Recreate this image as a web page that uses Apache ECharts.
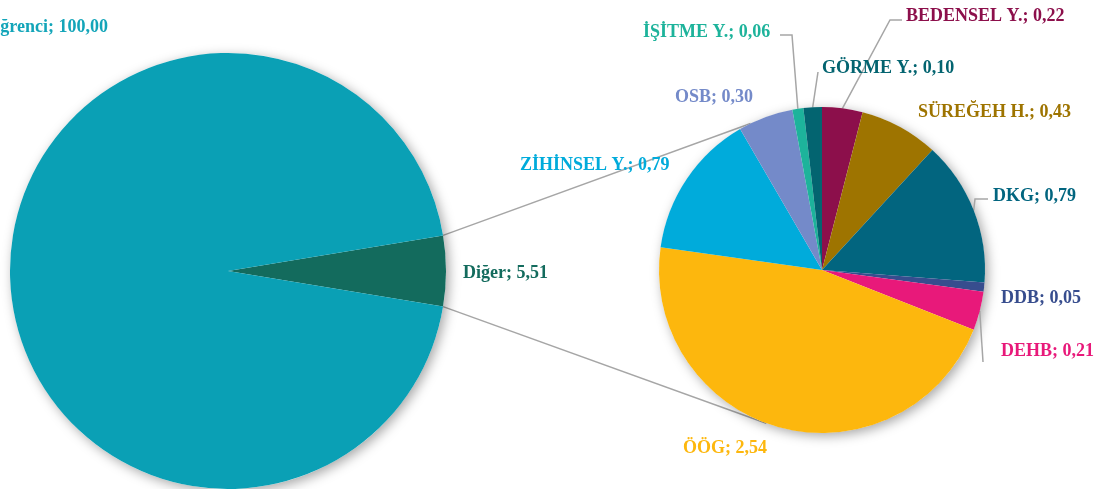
<!DOCTYPE html>
<html>
<head>
<meta charset="utf-8">
<script src="https://cdn.jsdelivr.net/npm/echarts@6/dist/echarts.min.js"></script>
<style>
  html, body { margin: 0; padding: 0; background: #fff; }
  #chart { width: 1111px; height: 489px; }
</style>
</head>
<body>
<div id="chart"></div>
<script>
// left pie
const mainNames = ['Diğer', 'Öğrenci']
const mainValues = [5.51, 100.00]
const mainColors = ['#136b5d', '#0aa0b5']

// right pie (clockwise from 12 o'clock)
const subNames = ['BEDENSEL Y.', 'SÜREĞEH H.', 'DKG', 'DDB', 'DEHB', 'ÖÖG', 'ZİHİNSEL Y.', 'OSB', 'İŞİTME Y.', 'GÖRME Y.']
const subValues = [0.22, 0.43, 0.79, 0.05, 0.21, 2.54, 0.79, 0.30, 0.06, 0.10]
const subColors = ['#8c0f4b', '#9e7400', '#02657f', '#374d8e', '#e8197a', '#fdb70d', '#00abdb', '#748ac9', '#1db39b', '#036470']

// geometry
const mainC = [228, 271], mainR = 218
const subC = [822, 270], subR = 163
const font = '"Liberation Serif", "DejaVu Serif", serif'
const lineColor = '#a6a6a6'

// label spots [x, y, align]
const mainLabelPos = [[463, 273, 'left'], [108, 27, 'right']]
const subLabelPos = [
  [906, 16, 'left'], [918, 112, 'left'], [993, 196, 'left'], [1001, 298, 'left'],
  [1001, 351, 'left'], [683, 448, 'left'], [520, 165, 'left'], [675, 97, 'left'],
  [643, 32, 'left'], [822, 68, 'left']
]
// leader line bends, only for the labels that have one
const subBends = {
  0: [[890, 20], [902, 20]],
  2: [[975, 199], [988, 199]],
  4: [[983, 362]],
  8: [[792, 35], [780, 35]],
  9: [[818, 72]]
}

const fmt = (p) => p.name + '; ' + p.value.toFixed(2).replace('.', ',')
const sum = (arr) => arr.reduce((a, b) => a + b, 0)

const subTotal = sum(subValues)
const subMid = []
let acc = 0
subValues.forEach((v) => {
  const a = (acc + v / 2) / subTotal * Math.PI * 2
  subMid.push([subC[0] + subR * Math.sin(a), subC[1] - subR * Math.cos(a)])
  acc += v
})

const mainTotal = sum(mainValues)
const half = mainValues[0] / mainTotal * Math.PI
const mainStart = half * 180 / Math.PI

const edgeA = [mainC[0] + mainR * Math.cos(half), mainC[1] - mainR * Math.sin(half)]
const edgeB = [mainC[0] + mainR * Math.cos(half), mainC[1] + mainR * Math.sin(half)]
const onSub = (deg) => {
  const a = deg * Math.PI / 180
  return [subC[0] + subR * Math.sin(a), subC[1] - subR * Math.cos(a)]
}
const endA = onSub(334)
const endB = onSub(200)

const labelBase = { show: true, position: 'outside', fontFamily: font, fontSize: 18, fontWeight: 'bold', formatter: fmt }
const shadowStyle = { shadowBlur: 12, shadowColor: 'rgba(0,0,0,0.35)', shadowOffsetX: 3, shadowOffsetY: 3 }

const chart = echarts.init(document.getElementById('chart'))
chart.setOption({
  animation: false,
  backgroundColor: '#fff',
  graphic: {
    elements: [
      { type: 'line', z: 0, shape: { x1: edgeA[0], y1: edgeA[1], x2: endA[0], y2: endA[1] }, style: { stroke: lineColor, lineWidth: 1.5 } },
      { type: 'line', z: 0, shape: { x1: edgeB[0], y1: edgeB[1], x2: endB[0], y2: endB[1] }, style: { stroke: lineColor, lineWidth: 1.5 } }
    ]
  },
  series: [
    {
      type: 'pie', silent: true, z: 1, center: mainC, radius: mainR,
      label: { show: false }, labelLine: { show: false },
      itemStyle: Object.assign({ color: '#fff' }, shadowStyle),
      data: [{ value: mainTotal }]
    },
    {
      type: 'pie', silent: true, z: 1, center: subC, radius: subR,
      label: { show: false }, labelLine: { show: false },
      itemStyle: Object.assign({ color: '#fff' }, shadowStyle),
      data: [{ value: subTotal }]
    },
    {
      type: 'pie', z: 3, center: mainC, radius: mainR, startAngle: mainStart, clockwise: true,
      avoidLabelOverlap: false,
      label: labelBase,
      labelLine: { show: false },
      data: mainNames.map((n, i) => ({
        name: n, value: mainValues[i],
        itemStyle: { color: mainColors[i] },
        label: { color: mainColors[i] === '#0aa0b5' ? '#13a5b9' : mainColors[i] }
      })),
      labelLayout: (p) => {
        const s = mainLabelPos[p.dataIndex]
        return { x: s[0], y: s[1], align: s[2], verticalAlign: 'middle' }
      }
    },
    {
      type: 'pie', z: 3, center: subC, radius: subR, startAngle: 90, clockwise: true,
      avoidLabelOverlap: false,
      label: labelBase,
      labelLine: { show: true, length: 10, length2: 10, lineStyle: { color: lineColor, width: 1.5 } },
      data: subNames.map((n, i) => ({
        name: n, value: subValues[i],
        itemStyle: { color: subColors[i] },
        label: { color: subColors[i] },
        labelLine: { show: !!subBends[i] }
      })),
      labelLayout: (p) => {
        const i = p.dataIndex
        const s = subLabelPos[i]
        const out = { x: s[0], y: s[1], align: s[2], verticalAlign: 'middle' }
        if (subBends[i]) out.labelLinePoints = [subMid[i]].concat(subBends[i])
        return out
      }
    }
  ]
})
</script>
</body>
</html>
